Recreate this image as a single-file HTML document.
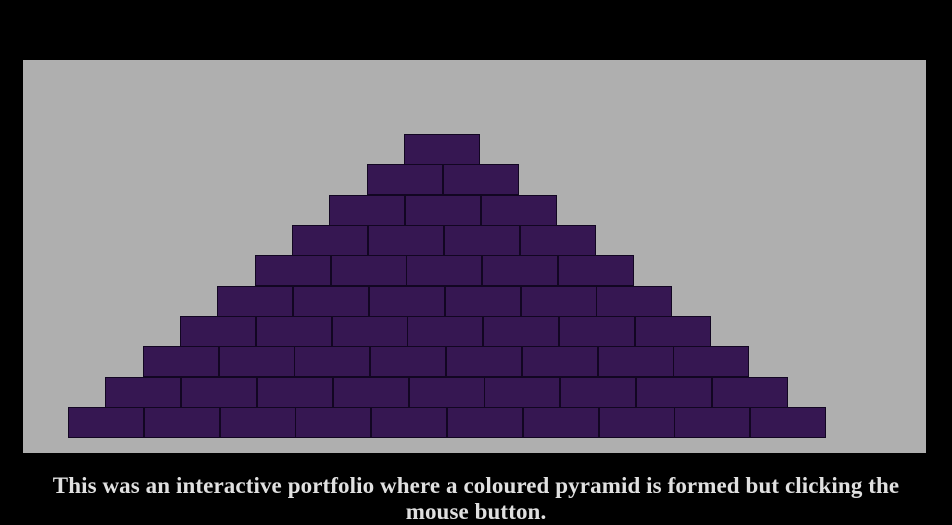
<!DOCTYPE html>
<html><head><meta charset="utf-8"><style>
html,body{margin:0;padding:0;background:#000;width:952px;height:518px;overflow:hidden}
#panel{position:absolute;left:23px;top:60px;width:903px;height:393px;background:#afafaf}
.brick{position:absolute;box-sizing:border-box;width:76px;height:31px;background:#361752;border:1px solid #120622}
#caption{position:absolute;left:36px;top:473px;width:880px;text-align:center;color:#e0e0e0;font-family:"Liberation Serif",serif;font-weight:bold;font-size:23px;letter-spacing:0.1px;line-height:26px}
</style></head><body>
<div id="panel"></div>
<div id="caption">This was an interactive portfolio where a coloured pyramid is formed but clicking the mouse button.</div>
<script>
const rowCounts=[10,9,8,7,6,5,4,3,2,1];
const panel=document.getElementById('panel');
const bw=75.8,bh=30.33,shift=37.35,baseX=68-23,baseY=407-60;
rowCounts.forEach((n,r)=>{
  for(let i=0;i<n;i++){
    const b=document.createElement('div');
    b.className='brick';
    
    
    b.style.left=(baseX+r*shift+i*bw)+'px';
    b.style.top=(baseY-r*bh)+'px';
    panel.appendChild(b);
  }
});
</script>
</body></html>
